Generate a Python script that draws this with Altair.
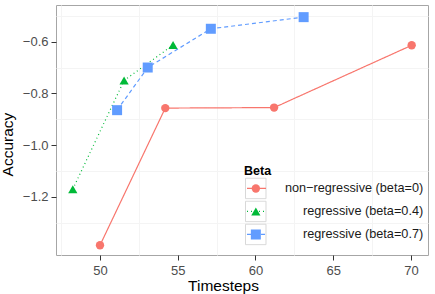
import altair as alt
import pandas as pd

# Series names and colours
series = ["non−regressive (beta=0)", "regressive (beta=0.4)", "regressive (beta=0.7)"]
colors = ["#F8766D", "#00BA38", "#619CFF"]
shapes = ["circle", "triangle-up", "square"]
marker_sizes = [70, 100, 81]
dashes = [[1, 0], [1, 3], [4, 3]]

# Accuracy per timestep for each beta setting
t_beta0 = [50.0, 54.2, 61.2, 70.05]
acc_beta0 = [-1.388, -0.857, -0.855, -0.614]
t_beta04 = [48.25, 51.55, 54.7]
acc_beta04 = [-1.171, -0.750, -0.613]
t_beta07 = [51.1, 53.07, 57.13, 63.1]
acc_beta07 = [-0.865, -0.700, -0.550, -0.505]

# Axis ticks
x_ticks = [50, 55, 60, 65, 70]
x_minor = [47.5, 52.5, 57.5, 62.5, 67.5]
y_ticks = [-1.2, -1.0, -0.8, -0.6]
y_minor = [-1.3, -1.1, -0.9, -0.7, -0.5]

rows = []
for name, ts, accs in zip(series, [t_beta0, t_beta04, t_beta07],
                          [acc_beta0, acc_beta04, acc_beta07]):
    for t, a in zip(ts, accs):
        rows.append({"Timesteps": t, "Accuracy": a, "Beta": name})
df = pd.DataFrame(rows)

FONT = "Liberation Sans"
x_scale = alt.Scale(domain=[47.17, 71.1], nice=False, zero=False)
y_scale = alt.Scale(domain=[-1.4256, -0.458], nice=False, zero=False)

main_x_axis = alt.Axis(values=x_ticks, orient="bottom", title="Timesteps",
                       gridColor="#E6E6E6", labelPadding=4,
                       titleX=167, titleY=23.5)
main_y_axis = alt.Axis(values=y_ticks, orient="left", title="Accuracy",
                       gridColor="#E6E6E6", format=".1f", labelPadding=3,
                       titleX=-41, titleY=139)

# The legend is stacked from three guides sharing one row layout:
# grey key boxes, the line samples, and the point symbols with labels.
KEY_H = 22.5
LEG_Y = 159.7
TITLE_H = 12.5


def legend_for(x, with_text, **kw):
    opts = dict(
        orient="none", legendX=x, legendY=LEG_Y if with_text else LEG_Y + TITLE_H,
        labelFont=FONT, labelFontSize=12.7, labelColor="#1A1A1A",
        clipHeight=KEY_H, rowPadding=0,
    )
    if with_text:
        opts.update(title="Beta", titleFont=FONT, titleFontSize=12.5,
                    titleFontWeight="bold", titleColor="#000000", titlePadding=0)
    else:
        opts.update(title=None, labelExpr="''")
    opts.update(kw)
    return alt.Legend(**opts)


box_legend = legend_for(188.75, False, symbolSize=420, symbolStrokeColor="#C8C8C8",
                        symbolFillColor="transparent", symbolStrokeWidth=1)
line_legend = legend_for(190, False, symbolType="stroke", symbolSize=361,
                         symbolStrokeWidth=1.2)
point_legend = legend_for(188, True, symbolStrokeWidth=0,
                          symbolOffset=5.5, labelAlign="right", labelOffset=161)

# Lighter minor grid lines underneath everything
minor = alt.Chart(df).mark_point(opacity=0).encode(
    x=alt.X("Timesteps:Q", scale=x_scale,
            axis=alt.Axis(values=x_minor, orient="bottom", grid=True, gridColor="#F4F4F4",
                          labels=False, ticks=False, domain=False, title=None)),
    y=alt.Y("Accuracy:Q", scale=y_scale,
            axis=alt.Axis(values=y_minor, orient="left", grid=True, gridColor="#F4F4F4",
                          labels=False, ticks=False, domain=False, title=None)),
)

# Key boxes (no data rows, only the legend)
boxes = alt.Chart(pd.DataFrame({"Beta": pd.Series([], dtype=str)})).mark_point(
    filled=False, color="#C8C8C8"
).encode(
    shape=alt.Shape("Beta:N", scale=alt.Scale(domain=series, range=["square"] * 3),
                    legend=box_legend),
)

line_color = alt.Color("Beta:N", scale=alt.Scale(domain=series, range=colors),
                       legend=line_legend)
lines = alt.Chart(df).mark_line(strokeWidth=1.2).encode(
    x=alt.X("Timesteps:Q", scale=x_scale, axis=main_x_axis),
    y=alt.Y("Accuracy:Q", scale=y_scale, axis=main_y_axis),
    color=line_color,
    strokeDash=alt.StrokeDash("Beta:N", scale=alt.Scale(domain=series, range=dashes),
                              legend=line_legend),
)

point_color = alt.Color("Beta:N", scale=alt.Scale(domain=series, range=colors),
                        legend=point_legend)
points = alt.Chart(df).mark_point(filled=True, opacity=1).encode(
    x=alt.X("Timesteps:Q", scale=x_scale, axis=None),
    y=alt.Y("Accuracy:Q", scale=y_scale, axis=None),
    color=point_color,
    shape=alt.Shape("Beta:N", scale=alt.Scale(domain=series, range=shapes),
                    legend=point_legend),
    size=alt.Size("Beta:N", scale=alt.Scale(domain=series, range=marker_sizes),
                  legend=point_legend),
)

chart = alt.layer(minor, boxes, lines, points).resolve_axis(
    x="independent", y="independent"
).resolve_scale(
    shape="independent"
).resolve_legend(
    color="independent", shape="independent", strokeDash="independent",
    size="independent",
).properties(
    width=372, height=250,
    autosize=alt.AutoSizeParams(type="none"),
    padding={"left": 56, "top": 5, "right": 7, "bottom": 39},
).configure_view(
    stroke="#A6A6A6", strokeWidth=1,
).configure_axis(
    domain=False, tickColor="#333333", tickSize=5,
    labelFont=FONT, labelFontSize=13, labelColor="#4D4D4D",
    titleFont=FONT, titleFontSize=15.5, titleFontWeight="normal", titleColor="#000000",
)

chart.save("out.html", embed_options={"renderer": "svg", "actions": False})
